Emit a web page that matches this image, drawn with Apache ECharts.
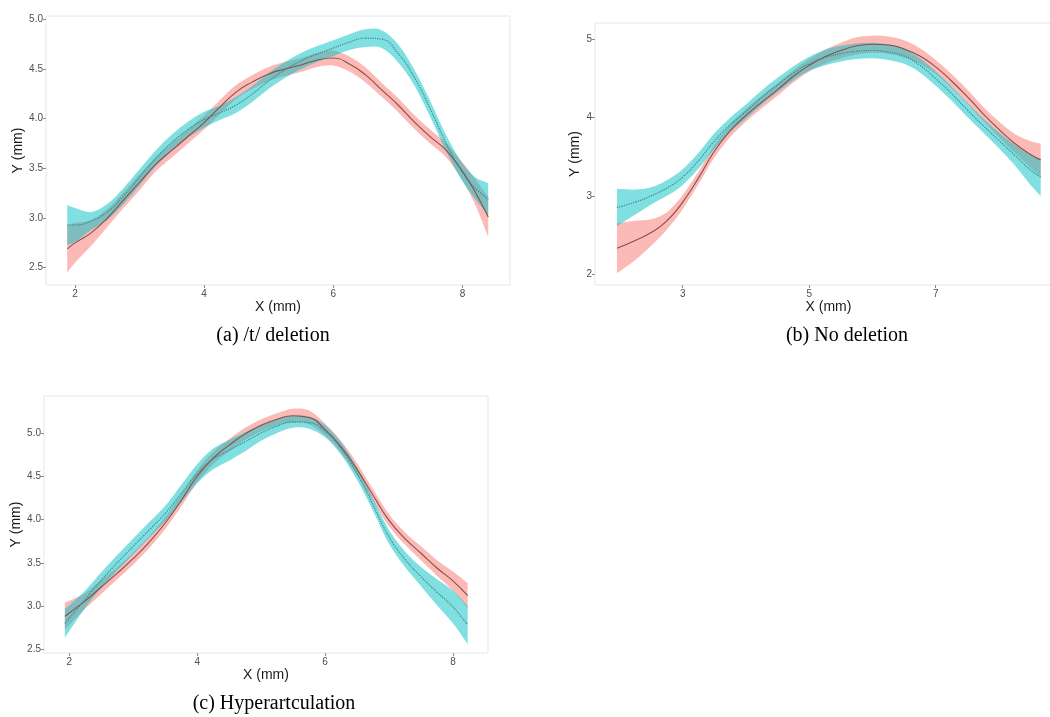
<!DOCTYPE html>
<html><head><meta charset="utf-8">
<script src="https://cdn.jsdelivr.net/npm/echarts@6/dist/echarts.min.js"></script>
<style>html,body{margin:0;padding:0;background:#fff}#c{width:1050px;height:717px}</style>
</head><body><div id="c"></div>
<script>
// ---------- Panel (a) /t/ deletion ----------
const aX = [1.88, 2.0, 2.25, 2.5, 2.75, 3.0, 3.25, 3.5, 3.75, 4.0, 4.25, 4.5, 4.75, 5.0, 5.25, 5.5, 5.75, 6.0, 6.25, 6.5, 6.75, 7.0, 7.25, 7.5, 7.75, 8.0, 8.2, 8.4];
const aRed = [2.69, 2.75, 2.85, 3.0, 3.18, 3.36, 3.54, 3.68, 3.82, 3.96, 4.12, 4.27, 4.37, 4.45, 4.50, 4.54, 4.59, 4.61, 4.55, 4.44, 4.29, 4.14, 3.97, 3.82, 3.68, 3.47, 3.26, 3.01];
const aRedSE = [0.24, 0.2, 0.13, 0.09, 0.08, 0.08, 0.07, 0.07, 0.07, 0.07, 0.07, 0.07, 0.07, 0.07, 0.07, 0.07, 0.07, 0.075, 0.075, 0.075, 0.07, 0.07, 0.07, 0.07, 0.07, 0.09, 0.13, 0.2];
const aTeal = [2.93, 2.93, 2.97, 3.06, 3.22, 3.41, 3.60, 3.76, 3.89, 3.99, 4.06, 4.14, 4.25, 4.38, 4.49, 4.58, 4.65, 4.71, 4.77, 4.81, 4.80, 4.66, 4.42, 4.10, 3.75, 3.46, 3.30, 3.19];
const aTealSE = [0.2, 0.17, 0.09, 0.08, 0.08, 0.08, 0.08, 0.08, 0.08, 0.08, 0.07, 0.08, 0.08, 0.08, 0.08, 0.08, 0.08, 0.08, 0.08, 0.09, 0.09, 0.09, 0.08, 0.08, 0.08, 0.09, 0.11, 0.16];
const aXTicks = [2, 4, 6, 8];
const aYTicks = [2.5, 3.0, 3.5, 4.0, 4.5, 5.0];

// ---------- Panel (b) No deletion ----------
const bX = [1.96, 2.25, 2.5, 2.75, 3.0, 3.25, 3.5, 3.75, 4.0, 4.25, 4.5, 4.75, 5.0, 5.25, 5.5, 5.75, 6.0, 6.25, 6.5, 6.75, 7.0, 7.25, 7.5, 7.75, 8.0, 8.25, 8.5, 8.66];
const bRed = [2.33, 2.43, 2.53, 2.68, 2.92, 3.23, 3.57, 3.83, 4.03, 4.20, 4.36, 4.53, 4.67, 4.78, 4.86, 4.92, 4.94, 4.93, 4.88, 4.79, 4.65, 4.47, 4.27, 4.05, 3.85, 3.67, 3.53, 3.46];
const bRedSE = [0.32, 0.25, 0.17, 0.11, 0.09, 0.08, 0.08, 0.08, 0.08, 0.08, 0.08, 0.08, 0.08, 0.09, 0.1, 0.11, 0.11, 0.11, 0.11, 0.1, 0.09, 0.09, 0.09, 0.09, 0.1, 0.12, 0.17, 0.21];
const bTeal = [2.85, 2.92, 3.00, 3.10, 3.24, 3.45, 3.70, 3.91, 4.08, 4.26, 4.42, 4.57, 4.69, 4.77, 4.82, 4.85, 4.86, 4.84, 4.79, 4.67, 4.50, 4.31, 4.10, 3.90, 3.71, 3.52, 3.33, 3.24];
const bTealSE = [0.24, 0.16, 0.11, 0.1, 0.1, 0.1, 0.1, 0.09, 0.09, 0.09, 0.09, 0.09, 0.09, 0.1, 0.1, 0.1, 0.1, 0.1, 0.1, 0.09, 0.09, 0.09, 0.09, 0.09, 0.1, 0.13, 0.19, 0.24];
const bXTicks = [3, 5, 7];
const bYTicks = [2, 3, 4, 5];

// ---------- Panel (c) Hyperartculation ----------
const cX = [1.93, 2.0, 2.25, 2.5, 2.75, 3.0, 3.25, 3.5, 3.75, 4.0, 4.25, 4.5, 4.75, 5.0, 5.25, 5.5, 5.75, 6.0, 6.25, 6.5, 6.75, 7.0, 7.25, 7.5, 7.75, 8.0, 8.23];
const cRed = [2.88, 2.92, 3.06, 3.22, 3.38, 3.55, 3.74, 3.96, 4.22, 4.50, 4.71, 4.86, 4.99, 5.09, 5.16, 5.20, 5.18, 5.04, 4.84, 4.58, 4.28, 3.99, 3.78, 3.61, 3.44, 3.29, 3.12];
const cRedSE = [0.16, 0.14, 0.09, 0.08, 0.07, 0.07, 0.07, 0.07, 0.07, 0.07, 0.07, 0.07, 0.07, 0.07, 0.07, 0.08, 0.08, 0.07, 0.07, 0.07, 0.07, 0.07, 0.07, 0.08, 0.09, 0.11, 0.145];
const cTeal = [2.80, 2.86, 3.08, 3.30, 3.50, 3.69, 3.88, 4.07, 4.30, 4.53, 4.70, 4.80, 4.90, 5.00, 5.08, 5.13, 5.12, 5.02, 4.82, 4.53, 4.17, 3.80, 3.54, 3.34, 3.16, 2.99, 2.78];
const cTealSE = [0.17, 0.15, 0.1, 0.09, 0.09, 0.09, 0.09, 0.09, 0.1, 0.11, 0.12, 0.12, 0.11, 0.09, 0.08, 0.07, 0.07, 0.07, 0.07, 0.07, 0.07, 0.08, 0.09, 0.11, 0.15, 0.19, 0.22];
const cXTicks = [2, 4, 6, 8];
const cYTicks = [2.5, 3.0, 3.5, 4.0, 4.5, 5.0];

const captions = ['(a) /t/ deletion', '(b) No deletion', '(c) Hyperartculation'];
const xTitle = 'X (mm)';
const yTitle = 'Y (mm)';

// ---------- styling ----------
const RED_FILL = '#F8766D', TEAL_FILL = '#00BFC4';
const RED_LINE = '#8a4d4d', TEAL_LINE = '#3b8486';
const SANS = "'Liberation Sans', Arial, sans-serif";

const panels = [
  {x: aX, r: aRed, rs: aRedSE, t: aTeal, ts: aTealSE, xt: aXTicks, yt: aYTicks, dec: 1,
   grid: {left: 46, top: 16, width: 464, height: 269}, xr: [1.551, 8.737], yr: [2.326, 5.033], yGap: 21},
  {x: bX, r: bRed, rs: bRedSE, t: bTeal, ts: bTealSE, xt: bXTicks, yt: bYTicks, dec: 0,
   grid: {left: 595, top: 23, width: 467, height: 262}, xr: [1.613, 8.997], yr: [1.859, 5.212], yGap: 11},
  {x: cX, r: cRed, rs: cRedSE, t: cTeal, ts: cTealSE, xt: cXTicks, yt: cYTicks, dec: 1,
   grid: {left: 44, top: 396, width: 444, height: 257}, xr: [1.604, 8.548], yr: [2.457, 5.428], yGap: 19}
];

// Catmull-Rom through pixel points -> cubic bezier path segments
function splinePath(pts, start) {
  let d = start ? ('M' + pts[0][0] + ' ' + pts[0][1]) : ('L' + pts[0][0] + ' ' + pts[0][1]);
  for (let i = 0; i < pts.length - 1; i++) {
    const p0 = pts[Math.max(0, i - 1)], p1 = pts[i], p2 = pts[i + 1], p3 = pts[Math.min(pts.length - 1, i + 2)];
    const c1 = [p1[0] + (p2[0] - p0[0]) / 6, p1[1] + (p2[1] - p0[1]) / 6];
    const c2 = [p2[0] - (p3[0] - p1[0]) / 6, p2[1] - (p3[1] - p1[1]) / 6];
    d += 'C' + c1[0] + ' ' + c1[1] + ' ' + c2[0] + ' ' + c2[1] + ' ' + p2[0] + ' ' + p2[1];
  }
  return d;
}

const grids = [], xAxes = [], yAxes = [], series = [];
panels.forEach((p, i) => {
  grids.push(Object.assign({show: true, borderColor: '#e6e6e6', borderWidth: 1,
    containLabel: false, outerBoundsMode: 'none'}, p.grid));
  xAxes.push({
    type: 'value', gridIndex: i, min: p.xr[0], max: p.xr[1],
    name: xTitle, nameLocation: 'middle', nameGap: 12,
    nameTextStyle: {fontFamily: SANS, fontSize: 14, color: '#1a1a1a'},
    axisLine: {show: false}, splitLine: {show: false},
    axisTick: {show: true, length: 3, customValues: p.xt, lineStyle: {color: '#8c8c8c'}},
    axisLabel: {customValues: p.xt, margin: 4, fontFamily: SANS, fontSize: 10, color: '#4d4d4d'}
  });
  yAxes.push({
    type: 'value', gridIndex: i, min: p.yr[0], max: p.yr[1],
    name: yTitle, nameLocation: 'middle', nameGap: p.yGap,
    nameTextStyle: {fontFamily: SANS, fontSize: 14, color: '#1a1a1a'},
    axisLine: {show: false}, splitLine: {show: false},
    axisTick: {show: true, length: 3, customValues: p.yt, lineStyle: {color: '#8c8c8c'}},
    axisLabel: {customValues: p.yt, margin: 3, fontFamily: SANS, fontSize: 10, color: '#4d4d4d',
      formatter: v => Number(v).toFixed(p.dec)}
  });
  const band = (mean, se, color) => {
    const rows = p.x.map((x, k) => [x, mean[k] - se[k], mean[k] + se[k]]);
    series.push({
      type: 'custom', xAxisIndex: i, yAxisIndex: i, silent: true, z: 1, clip: true,
      encode: {x: 0, y: [1, 2]},
      data: rows,
      renderItem: function (params, api) {
        if (params.dataIndex !== 0) return null;
        const up = rows.map(r => api.coord([r[0], r[2]]));
        const lo = rows.map(r => api.coord([r[0], r[1]])).reverse();
        const d = splinePath(up, true) + splinePath(lo, false) + 'Z';
        return {type: 'path', shape: {pathData: d}, style: {fill: color, opacity: 0.5}};
      }
    });
  };
  band(p.r, p.rs, RED_FILL);
  band(p.t, p.ts, TEAL_FILL);
  series.push({
    type: 'line', xAxisIndex: i, yAxisIndex: i, smooth: true, showSymbol: false, silent: true, z: 3,
    lineStyle: {color: RED_LINE, width: 1.1, type: 'solid'},
    data: p.x.map((x, k) => [x, p.r[k]])
  });
  series.push({
    type: 'line', xAxisIndex: i, yAxisIndex: i, smooth: true, showSymbol: false, silent: true, z: 3,
    lineStyle: {color: TEAL_LINE, width: 1.2, type: 'dotted'},
    data: p.x.map((x, k) => [x, p.t[k]])
  });
});

const captionPos = [[273, 336], [847, 336], [274, 704]];
const graphic = captions.map((t, i) => ({
  type: 'text', x: captionPos[i][0], y: captionPos[i][1],
  style: {text: t, font: "20px 'Liberation Serif', 'Times New Roman', serif", fill: '#000',
          textAlign: 'center', textVerticalAlign: 'middle'}
}));

const chart = echarts.init(document.getElementById('c'), null, {renderer: 'canvas'});
chart.setOption({
  animation: false,
  backgroundColor: '#fff',
  grid: grids, xAxis: xAxes, yAxis: yAxes, series: series, graphic: graphic
});
</script>
</body></html>
